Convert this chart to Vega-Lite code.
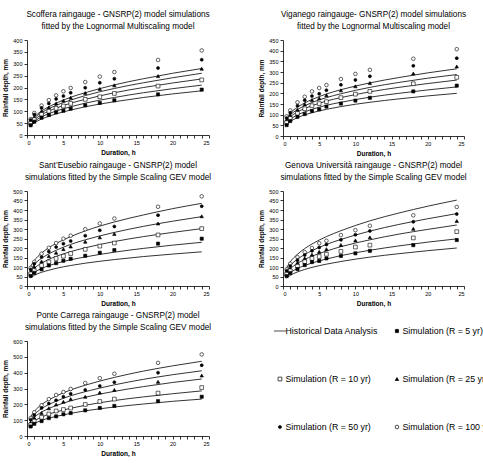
{
 "$schema": "https://vega.github.io/schema/vega-lite/v6.json",
 "padding": {"top": 10, "left": 2, "right": 0, "bottom": 0},
 "background": "white",
 "datasets": {
  "sco_sim": [
   {"R":"100","d":0.5,"h":67},{"R":"50","d":0.5,"h":63},{"R":"25","d":0.5,"h":56},{"R":"10","d":0.5,"h":49},{"R":"5","d":0.5,"h":41},
   {"R":"100","d":1,"h":93},{"R":"50","d":1,"h":86},{"R":"25","d":1,"h":76},{"R":"10","d":1,"h":65},{"R":"5","d":1,"h":56},
   {"R":"100","d":2,"h":124},{"R":"50","d":2,"h":114},{"R":"25","d":2,"h":100},{"R":"10","d":2,"h":87},{"R":"5","d":2,"h":73},
   {"R":"100","d":3,"h":147},{"R":"50","d":3,"h":133},{"R":"25","d":3,"h":116},{"R":"10","d":3,"h":100},{"R":"5","d":3,"h":84},
   {"R":"100","d":4,"h":167},{"R":"50","d":4,"h":152},{"R":"25","d":4,"h":133},{"R":"10","d":4,"h":112},{"R":"5","d":4,"h":95},
   {"R":"100","d":5,"h":184},{"R":"50","d":5,"h":164},{"R":"25","d":5,"h":145},{"R":"10","d":5,"h":122},{"R":"5","d":5,"h":102},
   {"R":"100","d":6,"h":198},{"R":"50","d":6,"h":178},{"R":"25","d":6,"h":157},{"R":"10","d":6,"h":133},{"R":"5","d":6,"h":111},
   {"R":"100","d":8,"h":223},{"R":"50","d":8,"h":199},{"R":"25","d":8,"h":177},{"R":"10","d":8,"h":150},{"R":"5","d":8,"h":125},
   {"R":"100","d":10,"h":246},{"R":"50","d":10,"h":220},{"R":"25","d":10,"h":194},{"R":"10","d":10,"h":161},{"R":"5","d":10,"h":135},
   {"R":"100","d":12,"h":265},{"R":"50","d":12,"h":237},{"R":"25","d":12,"h":209},{"R":"10","d":12,"h":175},{"R":"5","d":12,"h":146},
   {"R":"100","d":18,"h":316},{"R":"50","d":18,"h":282},{"R":"25","d":18,"h":248},{"R":"10","d":18,"h":206},{"R":"5","d":18,"h":171},
   {"R":"100","d":24,"h":356},{"R":"50","d":24,"h":317},{"R":"25","d":24,"h":279},{"R":"10","d":24,"h":232},{"R":"5","d":24,"h":191}
  ],
  "sco_fit": [
   {"R":"100","d":0.5,"h":57},{"R":"100","d":1,"h":76},{"R":"100","d":2,"h":101},{"R":"100","d":3,"h":119},{"R":"100","d":4,"h":134},{"R":"100","d":6,"h":159},{"R":"100","d":8,"h":178},{"R":"100","d":12,"h":211},{"R":"100","d":16,"h":237},{"R":"100","d":20,"h":260},{"R":"100","d":24,"h":280},
   {"R":"50","d":0.5,"h":53},{"R":"50","d":1,"h":71},{"R":"50","d":2,"h":94},{"R":"50","d":3,"h":111},{"R":"50","d":4,"h":125},{"R":"50","d":6,"h":147},{"R":"50","d":8,"h":166},{"R":"50","d":12,"h":196},{"R":"50","d":16,"h":220},{"R":"50","d":20,"h":241},{"R":"50","d":24,"h":260},
   {"R":"25","d":0.5,"h":48},{"R":"25","d":1,"h":64},{"R":"25","d":2,"h":85},{"R":"25","d":3,"h":101},{"R":"25","d":4,"h":113},{"R":"25","d":6,"h":134},{"R":"25","d":8,"h":150},{"R":"25","d":12,"h":178},{"R":"25","d":16,"h":200},{"R":"25","d":20,"h":219},{"R":"25","d":24,"h":236},
   {"R":"10","d":0.5,"h":43},{"R":"10","d":1,"h":57},{"R":"10","d":2,"h":76},{"R":"10","d":3,"h":90},{"R":"10","d":4,"h":101},{"R":"10","d":6,"h":119},{"R":"10","d":8,"h":134},{"R":"10","d":12,"h":158},{"R":"10","d":16,"h":178},{"R":"10","d":20,"h":195},{"R":"10","d":24,"h":210},
   {"R":"5","d":0.5,"h":38},{"R":"5","d":1,"h":51},{"R":"5","d":2,"h":67},{"R":"5","d":3,"h":79},{"R":"5","d":4,"h":89},{"R":"5","d":6,"h":105},{"R":"5","d":8,"h":119},{"R":"5","d":12,"h":140},{"R":"5","d":16,"h":158},{"R":"5","d":20,"h":173},{"R":"5","d":24,"h":186}
  ],
  "vig_sim": [
   {"R":"100","d":0.5,"h":92},{"R":"50","d":0.5,"h":84},{"R":"25","d":0.5,"h":76},{"R":"10","d":0.5,"h":63},{"R":"5","d":0.5,"h":51},
   {"R":"100","d":1,"h":120},{"R":"50","d":1,"h":109},{"R":"25","d":1,"h":97},{"R":"10","d":1,"h":82},{"R":"5","d":1,"h":70},
   {"R":"100","d":2,"h":158},{"R":"50","d":2,"h":142},{"R":"25","d":2,"h":123},{"R":"10","d":2,"h":106},{"R":"5","d":2,"h":90},
   {"R":"100","d":3,"h":184},{"R":"50","d":3,"h":168},{"R":"25","d":3,"h":149},{"R":"10","d":3,"h":128},{"R":"5","d":3,"h":103},
   {"R":"100","d":4,"h":209},{"R":"50","d":4,"h":187},{"R":"25","d":4,"h":169},{"R":"10","d":4,"h":142},{"R":"5","d":4,"h":117},
   {"R":"100","d":5,"h":225},{"R":"50","d":5,"h":198},{"R":"25","d":5,"h":177},{"R":"10","d":5,"h":152},{"R":"5","d":5,"h":125},
   {"R":"100","d":6,"h":239},{"R":"50","d":6,"h":215},{"R":"25","d":6,"h":191},{"R":"10","d":6,"h":161},{"R":"5","d":6,"h":138},
   {"R":"100","d":8,"h":267},{"R":"50","d":8,"h":240},{"R":"25","d":8,"h":214},{"R":"10","d":8,"h":180},{"R":"5","d":8,"h":152},
   {"R":"100","d":10,"h":291},{"R":"50","d":10,"h":263},{"R":"25","d":10,"h":233},{"R":"10","d":10,"h":196},{"R":"5","d":10,"h":166},
   {"R":"100","d":12,"h":310},{"R":"50","d":12,"h":280},{"R":"25","d":12,"h":248},{"R":"10","d":12,"h":209},{"R":"5","d":12,"h":179},
   {"R":"100","d":18,"h":362},{"R":"50","d":18,"h":329},{"R":"25","d":18,"h":293},{"R":"10","d":18,"h":245},{"R":"5","d":18,"h":209},
   {"R":"100","d":24,"h":407},{"R":"50","d":24,"h":365},{"R":"25","d":24,"h":326},{"R":"10","d":24,"h":275},{"R":"5","d":24,"h":236}
  ],
  "vig_fit": [
   {"R":"100","d":0.5,"h":84},{"R":"100","d":1,"h":107},{"R":"100","d":2,"h":135},{"R":"100","d":3,"h":155},{"R":"100","d":4,"h":171},{"R":"100","d":6,"h":197},{"R":"100","d":8,"h":217},{"R":"100","d":12,"h":249},{"R":"100","d":16,"h":274},{"R":"100","d":20,"h":296},{"R":"100","d":24,"h":315},
   {"R":"50","d":0.5,"h":77},{"R":"50","d":1,"h":98},{"R":"50","d":2,"h":124},{"R":"50","d":3,"h":142},{"R":"50","d":4,"h":157},{"R":"50","d":6,"h":180},{"R":"50","d":8,"h":198},{"R":"50","d":12,"h":228},{"R":"50","d":16,"h":251},{"R":"50","d":20,"h":271},{"R":"50","d":24,"h":288},
   {"R":"25","d":0.5,"h":70},{"R":"25","d":1,"h":89},{"R":"25","d":2,"h":113},{"R":"25","d":3,"h":129},{"R":"25","d":4,"h":142},{"R":"25","d":6,"h":164},{"R":"25","d":8,"h":180},{"R":"25","d":12,"h":207},{"R":"25","d":16,"h":228},{"R":"25","d":20,"h":246},{"R":"25","d":24,"h":262},
   {"R":"10","d":0.5,"h":62},{"R":"10","d":1,"h":78},{"R":"10","d":2,"h":99},{"R":"10","d":3,"h":113},{"R":"10","d":4,"h":125},{"R":"10","d":6,"h":144},{"R":"10","d":8,"h":158},{"R":"10","d":12,"h":182},{"R":"10","d":16,"h":200},{"R":"10","d":20,"h":216},{"R":"10","d":24,"h":230},
   {"R":"5","d":0.5,"h":54},{"R":"5","d":1,"h":68},{"R":"5","d":2,"h":86},{"R":"5","d":3,"h":99},{"R":"5","d":4,"h":109},{"R":"5","d":6,"h":125},{"R":"5","d":8,"h":138},{"R":"5","d":12,"h":158},{"R":"5","d":16,"h":174},{"R":"5","d":20,"h":188},{"R":"5","d":24,"h":200}
  ],
  "eus_sim": [
   {"R":"100","d":0.5,"h":95},{"R":"50","d":0.5,"h":87},{"R":"25","d":0.5,"h":74},{"R":"10","d":0.5,"h":64},{"R":"5","d":0.5,"h":53},
   {"R":"100","d":1,"h":127},{"R":"50","d":1,"h":117},{"R":"25","d":1,"h":101},{"R":"10","d":1,"h":81},{"R":"5","d":1,"h":69},
   {"R":"100","d":2,"h":170},{"R":"50","d":2,"h":152},{"R":"25","d":2,"h":129},{"R":"10","d":2,"h":108},{"R":"5","d":2,"h":88},
   {"R":"100","d":3,"h":201},{"R":"50","d":3,"h":182},{"R":"25","d":3,"h":157},{"R":"10","d":3,"h":127},{"R":"5","d":3,"h":108},
   {"R":"100","d":4,"h":226},{"R":"50","d":4,"h":205},{"R":"25","d":4,"h":175},{"R":"10","d":4,"h":145},{"R":"5","d":4,"h":120},
   {"R":"100","d":5,"h":249},{"R":"50","d":5,"h":223},{"R":"25","d":5,"h":194},{"R":"10","d":5,"h":157},{"R":"5","d":5,"h":133},
   {"R":"100","d":6,"h":265},{"R":"50","d":6,"h":237},{"R":"25","d":6,"h":208},{"R":"10","d":6,"h":171},{"R":"5","d":6,"h":143},
   {"R":"100","d":8,"h":299},{"R":"50","d":8,"h":265},{"R":"25","d":8,"h":233},{"R":"10","d":8,"h":193},{"R":"5","d":8,"h":159},
   {"R":"100","d":10,"h":329},{"R":"50","d":10,"h":293},{"R":"25","d":10,"h":256},{"R":"10","d":10,"h":210},{"R":"5","d":10,"h":175},
   {"R":"100","d":12,"h":355},{"R":"50","d":12,"h":313},{"R":"25","d":12,"h":274},{"R":"10","d":12,"h":226},{"R":"5","d":12,"h":189},
   {"R":"100","d":18,"h":417},{"R":"50","d":18,"h":373},{"R":"25","d":18,"h":329},{"R":"10","d":18,"h":269},{"R":"5","d":18,"h":223},
   {"R":"100","d":24,"h":472},{"R":"50","d":24,"h":420},{"R":"25","d":24,"h":367},{"R":"10","d":24,"h":302},{"R":"5","d":24,"h":249}
  ],
  "eus_fit": [
   {"R":"100","d":0.5,"h":104},{"R":"100","d":1,"h":134},{"R":"100","d":2,"h":173},{"R":"100","d":3,"h":202},{"R":"100","d":4,"h":224},{"R":"100","d":6,"h":260},{"R":"100","d":8,"h":290},{"R":"100","d":12,"h":337},{"R":"100","d":16,"h":374},{"R":"100","d":20,"h":407},{"R":"100","d":24,"h":435},
   {"R":"50","d":0.5,"h":87},{"R":"50","d":1,"h":113},{"R":"50","d":2,"h":146},{"R":"50","d":3,"h":169},{"R":"50","d":4,"h":188},{"R":"50","d":6,"h":219},{"R":"50","d":8,"h":243},{"R":"50","d":12,"h":282},{"R":"50","d":16,"h":314},{"R":"50","d":20,"h":341},{"R":"50","d":24,"h":365},
   {"R":"25","d":0.5,"h":72},{"R":"25","d":1,"h":93},{"R":"25","d":2,"h":120},{"R":"25","d":3,"h":140},{"R":"25","d":4,"h":156},{"R":"25","d":6,"h":181},{"R":"25","d":8,"h":201},{"R":"25","d":12,"h":234},{"R":"25","d":16,"h":260},{"R":"25","d":20,"h":282},{"R":"25","d":24,"h":302},
   {"R":"10","d":0.5,"h":55},{"R":"10","d":1,"h":71},{"R":"10","d":2,"h":92},{"R":"10","d":3,"h":107},{"R":"10","d":4,"h":119},{"R":"10","d":6,"h":138},{"R":"10","d":8,"h":153},{"R":"10","d":12,"h":178},{"R":"10","d":16,"h":198},{"R":"10","d":20,"h":215},{"R":"10","d":24,"h":230},
   {"R":"5","d":0.5,"h":43},{"R":"5","d":1,"h":56},{"R":"5","d":2,"h":72},{"R":"5","d":3,"h":83},{"R":"5","d":4,"h":93},{"R":"5","d":6,"h":108},{"R":"5","d":8,"h":120},{"R":"5","d":12,"h":139},{"R":"5","d":16,"h":155},{"R":"5","d":20,"h":168},{"R":"5","d":24,"h":180}
  ],
  "gen_sim": [
   {"R":"100","d":0.5,"h":88},{"R":"50","d":0.5,"h":80},{"R":"25","d":0.5,"h":70},{"R":"10","d":0.5,"h":62},{"R":"5","d":0.5,"h":52},
   {"R":"100","d":1,"h":117},{"R":"50","d":1,"h":105},{"R":"25","d":1,"h":92},{"R":"10","d":1,"h":80},{"R":"5","d":1,"h":68},
   {"R":"100","d":2,"h":152},{"R":"50","d":2,"h":136},{"R":"25","d":2,"h":122},{"R":"10","d":2,"h":104},{"R":"5","d":2,"h":89},
   {"R":"100","d":3,"h":178},{"R":"50","d":3,"h":163},{"R":"25","d":3,"h":146},{"R":"10","d":3,"h":128},{"R":"5","d":3,"h":110},
   {"R":"100","d":4,"h":200},{"R":"50","d":4,"h":185},{"R":"25","d":4,"h":165},{"R":"10","d":4,"h":145},{"R":"5","d":4,"h":126},
   {"R":"100","d":5,"h":225},{"R":"50","d":5,"h":203},{"R":"25","d":5,"h":180},{"R":"10","d":5,"h":155},{"R":"5","d":5,"h":132},
   {"R":"100","d":6,"h":238},{"R":"50","d":6,"h":218},{"R":"25","d":6,"h":194},{"R":"10","d":6,"h":167},{"R":"5","d":6,"h":145},
   {"R":"100","d":8,"h":268},{"R":"50","d":8,"h":243},{"R":"25","d":8,"h":216},{"R":"10","d":8,"h":182},{"R":"5","d":8,"h":158},
   {"R":"100","d":10,"h":294},{"R":"50","d":10,"h":270},{"R":"25","d":10,"h":240},{"R":"10","d":10,"h":205},{"R":"5","d":10,"h":172},
   {"R":"100","d":12,"h":317},{"R":"50","d":12,"h":290},{"R":"25","d":12,"h":256},{"R":"10","d":12,"h":215},{"R":"5","d":12,"h":185},
   {"R":"100","d":18,"h":372},{"R":"50","d":18,"h":338},{"R":"25","d":18,"h":301},{"R":"10","d":18,"h":253},{"R":"5","d":18,"h":215},
   {"R":"100","d":24,"h":416},{"R":"50","d":24,"h":379},{"R":"25","d":24,"h":342},{"R":"10","d":24,"h":286},{"R":"5","d":24,"h":242}
  ],
  "gen_fit": [
   {"R":"100","d":0.5,"h":96},{"R":"100","d":1,"h":127},{"R":"100","d":2,"h":167},{"R":"100","d":3,"h":197},{"R":"100","d":4,"h":221},{"R":"100","d":6,"h":260},{"R":"100","d":8,"h":291},{"R":"100","d":12,"h":343},{"R":"100","d":16,"h":384},{"R":"100","d":20,"h":420},{"R":"100","d":24,"h":452},
   {"R":"50","d":0.5,"h":81},{"R":"50","d":1,"h":107},{"R":"50","d":2,"h":141},{"R":"50","d":3,"h":166},{"R":"50","d":4,"h":186},{"R":"50","d":6,"h":219},{"R":"50","d":8,"h":245},{"R":"50","d":12,"h":289},{"R":"50","d":16,"h":324},{"R":"50","d":20,"h":354},{"R":"50","d":24,"h":381},
   {"R":"25","d":0.5,"h":68},{"R":"25","d":1,"h":90},{"R":"25","d":2,"h":119},{"R":"25","d":3,"h":140},{"R":"25","d":4,"h":157},{"R":"25","d":6,"h":184},{"R":"25","d":8,"h":207},{"R":"25","d":12,"h":243},{"R":"25","d":16,"h":273},{"R":"25","d":20,"h":298},{"R":"25","d":24,"h":321},
   {"R":"10","d":0.5,"h":53},{"R":"10","d":1,"h":70},{"R":"10","d":2,"h":92},{"R":"10","d":3,"h":108},{"R":"10","d":4,"h":121},{"R":"10","d":6,"h":142},{"R":"10","d":8,"h":160},{"R":"10","d":12,"h":188},{"R":"10","d":16,"h":211},{"R":"10","d":20,"h":231},{"R":"10","d":24,"h":248},
   {"R":"5","d":0.5,"h":43},{"R":"5","d":1,"h":56},{"R":"5","d":2,"h":74},{"R":"5","d":3,"h":87},{"R":"5","d":4,"h":98},{"R":"5","d":6,"h":115},{"R":"5","d":8,"h":129},{"R":"5","d":12,"h":152},{"R":"5","d":16,"h":170},{"R":"5","d":20,"h":186},{"R":"5","d":24,"h":200}
  ],
  "pon_sim": [
   {"R":"100","d":0.5,"h":113},{"R":"50","d":0.5,"h":103},{"R":"25","d":0.5,"h":85},{"R":"10","d":0.5,"h":71},{"R":"5","d":0.5,"h":60},
   {"R":"100","d":1,"h":150},{"R":"50","d":1,"h":132},{"R":"25","d":1,"h":115},{"R":"10","d":1,"h":94},{"R":"5","d":1,"h":77},
   {"R":"100","d":2,"h":194},{"R":"50","d":2,"h":177},{"R":"25","d":2,"h":145},{"R":"10","d":2,"h":118},{"R":"5","d":2,"h":94},
   {"R":"100","d":3,"h":233},{"R":"50","d":3,"h":205},{"R":"25","d":3,"h":175},{"R":"10","d":3,"h":139},{"R":"5","d":3,"h":113},
   {"R":"100","d":4,"h":259},{"R":"50","d":4,"h":226},{"R":"25","d":4,"h":199},{"R":"10","d":4,"h":158},{"R":"5","d":4,"h":124},
   {"R":"100","d":5,"h":278},{"R":"50","d":5,"h":248},{"R":"25","d":5,"h":216},{"R":"10","d":5,"h":167},{"R":"5","d":5,"h":137},
   {"R":"100","d":6,"h":297},{"R":"50","d":6,"h":267},{"R":"25","d":6,"h":233},{"R":"10","d":6,"h":177},{"R":"5","d":6,"h":145},
   {"R":"100","d":8,"h":335},{"R":"50","d":8,"h":291},{"R":"25","d":8,"h":248},{"R":"10","d":8,"h":199},{"R":"5","d":8,"h":162},
   {"R":"100","d":10,"h":365},{"R":"50","d":10,"h":316},{"R":"25","d":10,"h":274},{"R":"10","d":10,"h":218},{"R":"5","d":10,"h":177},
   {"R":"100","d":12,"h":393},{"R":"50","d":12,"h":340},{"R":"25","d":12,"h":291},{"R":"10","d":12,"h":233},{"R":"5","d":12,"h":190},
   {"R":"100","d":18,"h":462},{"R":"50","d":18,"h":400},{"R":"25","d":18,"h":342},{"R":"10","d":18,"h":271},{"R":"5","d":18,"h":220},
   {"R":"100","d":24,"h":515},{"R":"50","d":24,"h":447},{"R":"25","d":24,"h":382},{"R":"10","d":24,"h":306},{"R":"5","d":24,"h":248}
  ],
  "pon_fit": [
   {"R":"100","d":0.5,"h":122},{"R":"100","d":1,"h":155},{"R":"100","d":2,"h":198},{"R":"100","d":3,"h":228},{"R":"100","d":4,"h":252},{"R":"100","d":6,"h":291},{"R":"100","d":8,"h":321},{"R":"100","d":12,"h":370},{"R":"100","d":16,"h":410},{"R":"100","d":20,"h":443},{"R":"100","d":24,"h":472},
   {"R":"50","d":0.5,"h":106},{"R":"50","d":1,"h":135},{"R":"50","d":2,"h":173},{"R":"50","d":3,"h":199},{"R":"50","d":4,"h":220},{"R":"50","d":6,"h":254},{"R":"50","d":8,"h":280},{"R":"50","d":12,"h":323},{"R":"50","d":16,"h":358},{"R":"50","d":20,"h":387},{"R":"50","d":24,"h":412},
   {"R":"25","d":0.5,"h":93},{"R":"25","d":1,"h":118},{"R":"25","d":2,"h":151},{"R":"25","d":3,"h":174},{"R":"25","d":4,"h":192},{"R":"25","d":6,"h":222},{"R":"25","d":8,"h":245},{"R":"25","d":12,"h":282},{"R":"25","d":16,"h":312},{"R":"25","d":20,"h":338},{"R":"25","d":24,"h":360},
   {"R":"10","d":0.5,"h":74},{"R":"10","d":1,"h":94},{"R":"10","d":2,"h":119},{"R":"10","d":3,"h":138},{"R":"10","d":4,"h":152},{"R":"10","d":6,"h":175},{"R":"10","d":8,"h":194},{"R":"10","d":12,"h":224},{"R":"10","d":16,"h":247},{"R":"10","d":20,"h":267},{"R":"10","d":24,"h":285},
   {"R":"5","d":0.5,"h":60},{"R":"5","d":1,"h":77},{"R":"5","d":2,"h":98},{"R":"5","d":3,"h":113},{"R":"5","d":4,"h":124},{"R":"5","d":6,"h":143},{"R":"5","d":8,"h":159},{"R":"5","d":12,"h":183},{"R":"5","d":16,"h":202},{"R":"5","d":20,"h":219},{"R":"5","d":24,"h":233}
  ],
  "legend": [
   {"col":1,"row":1,"R":"line","label":"Historical Data Analysis"},
   {"col":2,"row":1,"R":"5","label":"Simulation (R = 5 yr)"},
   {"col":1,"row":2,"R":"10","label":"Simulation (R = 10 yr)"},
   {"col":2,"row":2,"R":"25","label":"Simulation (R = 25 yr)"},
   {"col":1,"row":3,"R":"50","label":"Simulation (R = 50 yr)"},
   {"col":2,"row":3,"R":"100","label":"Simulation (R = 100 yr)"}
  ]
 },
 "columns": 2,
 "spacing": {"row": 55, "column": 74},
 "bounds": "flush",
 "concat": [
  {
   "width": 182, "height": 95,
   "title": {"text": ["Scoffera raingauge -  GNSRP(2) model simulations", "fitted by the Lognormal Multiscaling model"]},
   "encoding": {
    "x": {"field": "d", "type": "quantitative", "scale": {"domain": [0, 25], "nice": false}, "axis": {"title": "Duration, h", "values": [0,1,2,3,4,5,6,7,8,9,10,11,12,13,14,15,16,17,18,19,20,21,22,23,24,25], "labelExpr": "datum.value % 5 === 0 ? datum.label : ''"}},
    "y": {"field": "h", "type": "quantitative", "scale": {"domain": [0, 400], "nice": false}, "axis": {"title": "Rainfall depth, mm", "values": [0,50,100,150,200,250,300,350,400]}}
   },
   "layer": [
    {"data": {"name": "sco_fit"}, "mark": {"type": "line", "color": "black", "strokeWidth": 0.8, "interpolate": "monotone"}, "encoding": {"detail": {"field": "R"}}},
    {"data": {"name": "sco_sim"}, "mark": {"type": "point", "filled": true, "stroke": "black", "strokeWidth": 0.6, "opacity": 1},
     "encoding": {
      "shape": {"field": "R", "type": "nominal", "scale": {"domain": ["line","5","10","25","50","100"], "range": ["stroke","square","square","triangle-up","circle","circle"]}, "legend": null},
      "fill": {"field": "R", "type": "nominal", "scale": {"domain": ["line","5","10","25","50","100"], "range": ["black","black","white","black","black","white"]}, "legend": null},
      "size": {"field": "R", "type": "nominal", "scale": {"type": "ordinal", "domain": ["line","5","10","25","50","100"], "range": [144,10,14,12,9,13]}, "legend": null}
     }}
   ]
  },
  {
   "width": 181, "height": 96,
   "title": {"text": ["Viganego raingauge- GNSRP(2) model simulations", "fitted by the Lognormal Multiscaling model"]},
   "encoding": {
    "x": {"field": "d", "type": "quantitative", "scale": {"domain": [0, 25], "nice": false}, "axis": {"title": "Duration, h", "values": [0,1,2,3,4,5,6,7,8,9,10,11,12,13,14,15,16,17,18,19,20,21,22,23,24,25], "labelExpr": "datum.value % 5 === 0 ? datum.label : ''"}},
    "y": {"field": "h", "type": "quantitative", "scale": {"domain": [0, 450], "nice": false}, "axis": {"title": "Rainfall depth, mm", "values": [0,50,100,150,200,250,300,350,400,450]}}
   },
   "layer": [
    {"data": {"name": "vig_fit"}, "mark": {"type": "line", "color": "black", "strokeWidth": 0.8, "interpolate": "monotone"}, "encoding": {"detail": {"field": "R"}}},
    {"data": {"name": "vig_sim"}, "mark": {"type": "point", "filled": true, "stroke": "black", "strokeWidth": 0.6, "opacity": 1},
     "encoding": {
      "shape": {"field": "R", "type": "nominal", "scale": {"domain": ["line","5","10","25","50","100"], "range": ["stroke","square","square","triangle-up","circle","circle"]}, "legend": null},
      "fill": {"field": "R", "type": "nominal", "scale": {"domain": ["line","5","10","25","50","100"], "range": ["black","black","white","black","black","white"]}, "legend": null},
      "size": {"field": "R", "type": "nominal", "scale": {"type": "ordinal", "domain": ["line","5","10","25","50","100"], "range": [144,10,14,12,9,13]}, "legend": null}
     }}
   ]
  },
  {
   "width": 182, "height": 95,
   "title": {"text": ["Sant’Eusebio raingauge -  GNSRP(2) model", "simulations fitted by the Simple Scaling GEV model"]},
   "encoding": {
    "x": {"field": "d", "type": "quantitative", "scale": {"domain": [0, 25], "nice": false}, "axis": {"title": "Duration, h", "values": [0,1,2,3,4,5,6,7,8,9,10,11,12,13,14,15,16,17,18,19,20,21,22,23,24,25], "labelExpr": "datum.value % 5 === 0 ? datum.label : ''"}},
    "y": {"field": "h", "type": "quantitative", "scale": {"domain": [0, 500], "nice": false}, "axis": {"title": "Rainfall depth, mm", "values": [0,50,100,150,200,250,300,350,400,450,500]}}
   },
   "layer": [
    {"data": {"name": "eus_fit"}, "mark": {"type": "line", "color": "black", "strokeWidth": 0.8, "interpolate": "monotone"}, "encoding": {"detail": {"field": "R"}}},
    {"data": {"name": "eus_sim"}, "mark": {"type": "point", "filled": true, "stroke": "black", "strokeWidth": 0.6, "opacity": 1},
     "encoding": {
      "shape": {"field": "R", "type": "nominal", "scale": {"domain": ["line","5","10","25","50","100"], "range": ["stroke","square","square","triangle-up","circle","circle"]}, "legend": null},
      "fill": {"field": "R", "type": "nominal", "scale": {"domain": ["line","5","10","25","50","100"], "range": ["black","black","white","black","black","white"]}, "legend": null},
      "size": {"field": "R", "type": "nominal", "scale": {"type": "ordinal", "domain": ["line","5","10","25","50","100"], "range": [144,10,14,12,9,13]}, "legend": null}
     }}
   ]
  },
  {
   "width": 181, "height": 95,
   "title": {"text": ["Genova Università raingauge -  GNSRP(2) model", "simulations fitted by the Simple Scaling GEV model"]},
   "encoding": {
    "x": {"field": "d", "type": "quantitative", "scale": {"domain": [0, 25], "nice": false}, "axis": {"title": "Duration, h", "values": [0,1,2,3,4,5,6,7,8,9,10,11,12,13,14,15,16,17,18,19,20,21,22,23,24,25], "labelExpr": "datum.value % 5 === 0 ? datum.label : ''"}},
    "y": {"field": "h", "type": "quantitative", "scale": {"domain": [0, 500], "nice": false}, "axis": {"title": "Rainfall depth, mm", "values": [0,50,100,150,200,250,300,350,400,450,500]}}
   },
   "layer": [
    {"data": {"name": "gen_fit"}, "mark": {"type": "line", "color": "black", "strokeWidth": 0.8, "interpolate": "monotone"}, "encoding": {"detail": {"field": "R"}}},
    {"data": {"name": "gen_sim"}, "mark": {"type": "point", "filled": true, "stroke": "black", "strokeWidth": 0.6, "opacity": 1},
     "encoding": {
      "shape": {"field": "R", "type": "nominal", "scale": {"domain": ["line","5","10","25","50","100"], "range": ["stroke","square","square","triangle-up","circle","circle"]}, "legend": null},
      "fill": {"field": "R", "type": "nominal", "scale": {"domain": ["line","5","10","25","50","100"], "range": ["black","black","white","black","black","white"]}, "legend": null},
      "size": {"field": "R", "type": "nominal", "scale": {"type": "ordinal", "domain": ["line","5","10","25","50","100"], "range": [144,10,14,12,9,13]}, "legend": null}
     }}
   ]
  },
  {
   "width": 182, "height": 95,
   "title": {"text": ["Ponte Carrega raingauge -  GNSRP(2) model", "simulations fitted by the Simple Scaling GEV model"]},
   "encoding": {
    "x": {"field": "d", "type": "quantitative", "scale": {"domain": [0, 25], "nice": false}, "axis": {"title": "Duration, h", "values": [0,1,2,3,4,5,6,7,8,9,10,11,12,13,14,15,16,17,18,19,20,21,22,23,24,25], "labelExpr": "datum.value % 5 === 0 ? datum.label : ''"}},
    "y": {"field": "h", "type": "quantitative", "scale": {"domain": [0, 600], "nice": false}, "axis": {"title": "Rainfall depth, mm", "values": [0,100,200,300,400,500,600]}}
   },
   "layer": [
    {"data": {"name": "pon_fit"}, "mark": {"type": "line", "color": "black", "strokeWidth": 0.8, "interpolate": "monotone"}, "encoding": {"detail": {"field": "R"}}},
    {"data": {"name": "pon_sim"}, "mark": {"type": "point", "filled": true, "stroke": "black", "strokeWidth": 0.6, "opacity": 1},
     "encoding": {
      "shape": {"field": "R", "type": "nominal", "scale": {"domain": ["line","5","10","25","50","100"], "range": ["stroke","square","square","triangle-up","circle","circle"]}, "legend": null},
      "fill": {"field": "R", "type": "nominal", "scale": {"domain": ["line","5","10","25","50","100"], "range": ["black","black","white","black","black","white"]}, "legend": null},
      "size": {"field": "R", "type": "nominal", "scale": {"type": "ordinal", "domain": ["line","5","10","25","50","100"], "range": [144,10,14,12,9,13]}, "legend": null}
     }}
   ]
  },
  {
   "width": 181, "height": 95,
   "data": {"name": "legend"},
   "encoding": {
    "x": {"field": "col", "type": "quantitative", "scale": {"domain": [1.026, 2.573], "nice": false, "zero": false}, "axis": null},
    "y": {"field": "row", "type": "quantitative", "scale": {"domain": [1.2083, 3.1875], "nice": false, "zero": false, "reverse": true}, "axis": null}
   },
   "layer": [
    {"mark": {"type": "point", "filled": true, "stroke": "black", "strokeWidth": 0.7, "opacity": 1},
     "encoding": {
      "shape": {"field": "R", "type": "nominal", "scale": {"domain": ["line","5","10","25","50","100"], "range": ["stroke","square","square","triangle-up","circle","circle"]}, "legend": null},
      "fill": {"field": "R", "type": "nominal", "scale": {"domain": ["line","5","10","25","50","100"], "range": ["black","black","white","black","black","white"]}, "legend": null},
      "size": {"field": "R", "type": "nominal", "scale": {"type": "ordinal", "domain": ["line","5","10","25","50","100"], "range": [144,10,14,12,9,13]}, "legend": null}
     }},
    {"mark": {"type": "text", "align": "left", "baseline": "middle", "dx": 5.5, "fontSize": 8.8, "font": "Liberation Sans", "color": "black"},
     "encoding": {"text": {"field": "label"}}}
   ]
  }
 ],
 "config": {
  "font": "Liberation Sans",
  "view": {"stroke": null},
  "axis": {"grid": false, "domainColor": "black", "tickColor": "black", "labelColor": "black", "titleColor": "black", "labelFontSize": 5.5, "titleFontSize": 6.5, "titleFontWeight": "bold", "tickSize": 3, "labelPadding": 2, "domainWidth": 0.8, "tickWidth": 0.8, "labelFont": "Liberation Sans", "titleFont": "Liberation Sans"},
  "axisX": {"titlePadding": 4},
  "axisY": {"titlePadding": 4},
  "title": {"fontSize": 8.2, "fontWeight": "normal", "color": "black", "lineHeight": 11.5, "offset": 7, "font": "Liberation Sans", "anchor": "middle"}
 }
}
